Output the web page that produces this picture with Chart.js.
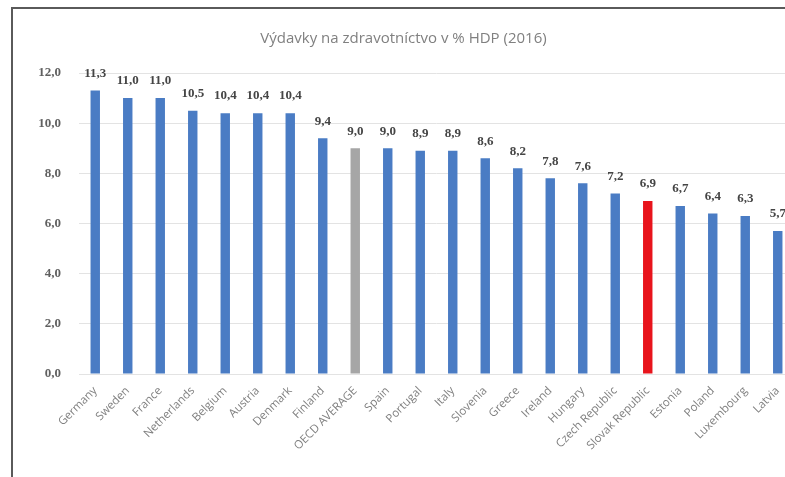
<!DOCTYPE html>
<html>
<head>
<meta charset="utf-8">
<script src="https://cdn.jsdelivr.net/npm/chart.js@4"></script>
<style>
  html, body { margin:0; padding:0; background:#fff; width:785px; height:477px; overflow:hidden; }
  #frame { position:absolute; left:11px; top:7px; width:800px; height:470px;
           border-left:2px solid #5a5a5a; border-top:2px solid #5a5a5a; }
  #wrap { position:absolute; left:0; top:0; width:800px; height:470px; }
</style>
</head>
<body>
<div id="frame"><div id="wrap"><canvas id="c"></canvas></div></div>
<script>
// krajiny a výdavky (% HDP)
const countries = ["Germany","Sweden","France","Netherlands","Belgium","Austria","Denmark","Finland",
  "OECD AVERAGE","Spain","Portugal","Italy","Slovenia","Greece","Ireland","Hungary",
  "Czech Republic","Slovak Republic","Estonia","Poland","Luxembourg","Latvia"];
const spending = [11.3,11.0,11.0,10.5,10.4,10.4,10.4,9.4,9.0,9.0,8.9,8.9,8.6,8.2,7.8,7.6,7.2,6.9,6.7,6.4,6.3,5.7];
const yTicks = [0,2,4,6,8,10,12];

const BLUE = "#4a7cc4", GREY = "#a6a6a6", RED = "#e8141c";
const barColors = countries.map(c => c==="OECD AVERAGE" ? GREY : (c==="Slovak Republic" ? RED : BLUE));
const fmt = v => v.toFixed(1).replace(".", ",");

// hodnoty nad stĺpcami
const valueLabels = {
  id: "valueLabels",
  afterDatasetsDraw(chart){
    const ctx = chart.ctx;
    const meta = chart.getDatasetMeta(0);
    ctx.save();
    ctx.font = "bold 13px 'Liberation Serif'";
    ctx.fillStyle = "#454545";
    ctx.textAlign = "center";
    ctx.textBaseline = "middle";
    meta.data.forEach((bar,i)=>{
      ctx.fillText(fmt(spending[i]), bar.x, bar.y - 17);
    });
    ctx.restore();
  }
};

new Chart(document.getElementById("c"), {
  type: "bar",
  data: {
    labels: countries,
    datasets: [{
      data: spending,
      backgroundColor: barColors,
      categoryPercentage: 1,
      barPercentage: 0.29
    }]
  },
  options: {
    responsive: true,
    maintainAspectRatio: false,
    animation: false,
    layout: { padding: { left: 0, right: 19, top: 0, bottom: 0 } },
    plugins: {
      legend: { display: false },
      tooltip: { enabled: false },
      title: {
        display: true,
        text: "Výdavky na zdravotníctvo v % HDP (2016)",
        color: "#808080",
        font: { family: "'Open Sans'", size: 15, weight: "normal" },
        padding: { top: 21, bottom: 25 }
      }
    },
    scales: {
      y: {
        min: 0, max: 12,
        afterBuildTicks: s => { s.ticks = yTicks.map(v => ({ value: v })); },
        afterFit: s => { s.width = 66; },
        border: { display: false },
        grid: { color: "#e3e3e3", drawTicks: false },
        ticks: {
          padding: 18,
          color: "#606060",
          font: { family: "'Liberation Serif'", size: 13, weight: "bold" },
          callback: v => fmt(v)
        }
      },
      x: {
        afterFit: s => { s.height = 105; },
        border: { color: "#e3e3e3" },
        grid: { display: false },
        ticks: {
          color: "#808080",
          minRotation: 45, maxRotation: 45,
          autoSkip: false,
          padding: 2,
          font: { family: "'Open Sans'", size: 11.5 }
        }
      }
    }
  },
  plugins: [valueLabels]
});
</script>
</body>
</html>
